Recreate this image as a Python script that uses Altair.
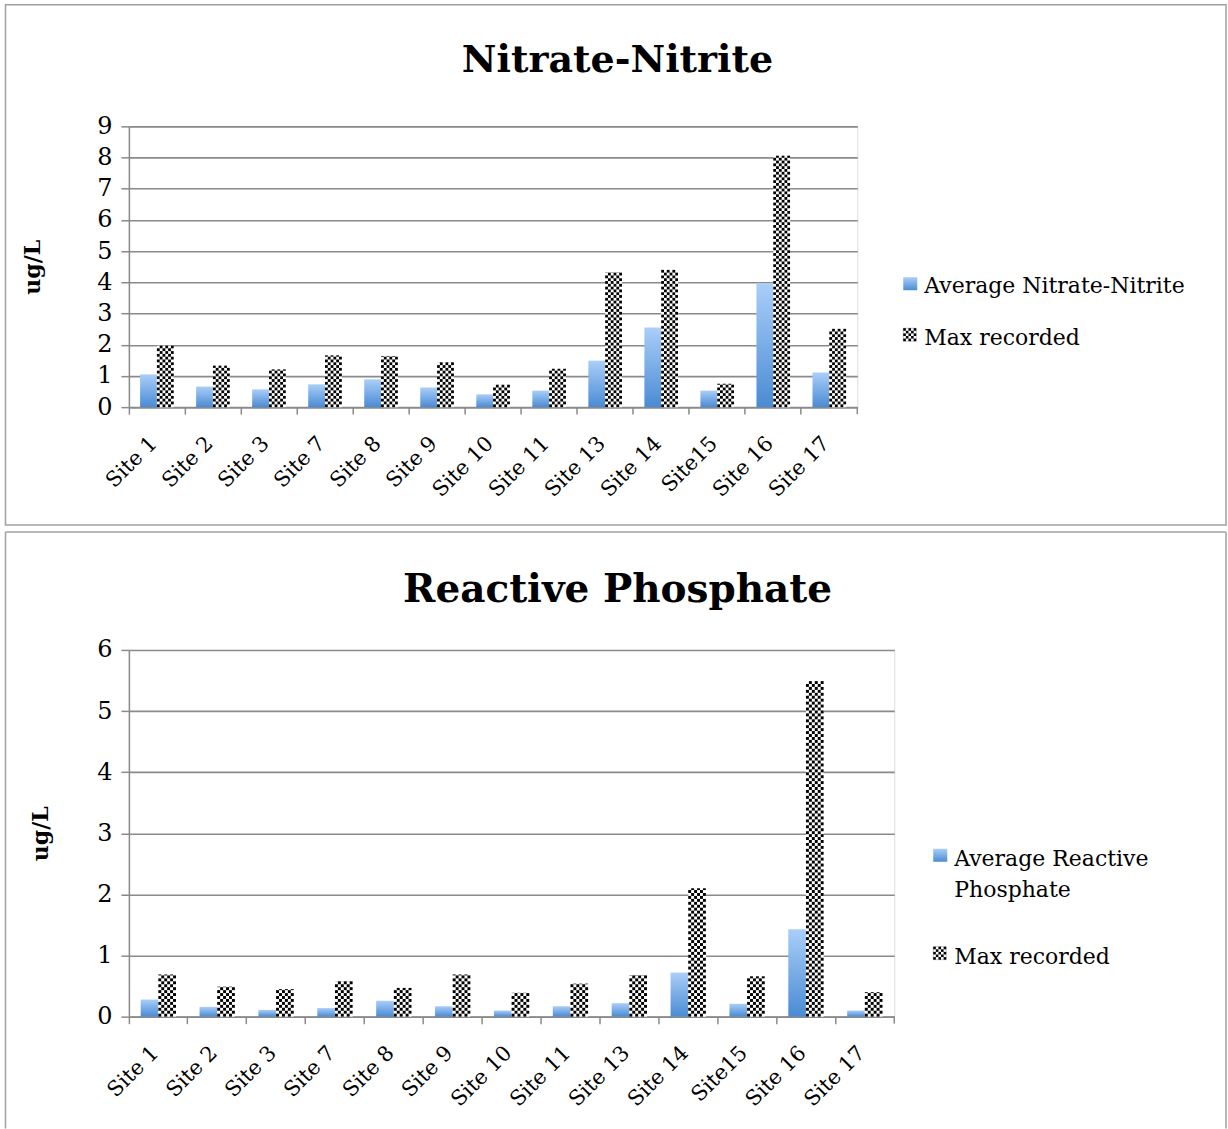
import math
import altair as alt
import pandas as pd

# ---------------- data ----------------
sites = ["Site 1", "Site 2", "Site 3", "Site 7", "Site 8", "Site 9", "Site 10",
         "Site 11", "Site 13", "Site 14", "Site15", "Site 16", "Site 17"]
nitrate_avg = [1.05, 0.66, 0.57, 0.73, 0.89, 0.63, 0.41, 0.53, 1.49, 2.55, 0.53, 3.97, 1.11]
nitrate_max = [1.97, 1.33, 1.21, 1.66, 1.64, 1.44, 0.72, 1.23, 4.32, 4.40, 0.75, 8.06, 2.51]
phos_avg = [0.28, 0.16, 0.11, 0.14, 0.26, 0.17, 0.10, 0.17, 0.22, 0.72, 0.21, 1.43, 0.10]
phos_max = [0.69, 0.49, 0.45, 0.58, 0.47, 0.69, 0.39, 0.54, 0.68, 2.10, 0.66, 5.49, 0.40]

SERIF = "DejaVu Serif"
GRID = "#8a8a8a"
NCOLS = 6          # checker columns per bar
PAD_SLOTS = 4      # empty checker-slots on each side of the bar pair
PAD_OUT = PAD_SLOTS / NCOLS

grad = alt.LinearGradient(
    gradient="linear",
    stops=[alt.GradientStop(color="#aacef9", offset=0),
           alt.GradientStop(color="#4a8bd3", offset=1)],
    x1=0, x2=0, y1=0, y2=1,
)

one = pd.DataFrame({"k": [0]})


def checker_cells(values, cell_h):
    rows = []
    for site, v in zip(sites, values):
        n = int(math.ceil(v / cell_h))
        for r in range(n):
            for c in range(NCOLS):
                if (r + c) % 2 == 0:
                    rows.append({"site": site, "col": PAD_SLOTS + NCOLS + c,
                                 "y0": r * cell_h,
                                 "y1": min((r + 1) * cell_h, v)})
    return pd.DataFrame(rows)


def legend_checker(x0, y0, size=13, n=5):
    """Small checkered legend swatch (decoration)."""
    s = size / n
    out = [alt.Chart(one).mark_rect(fill="white", stroke="#9a9a9a",
                                    strokeWidth=0.6).encode(
        x=alt.value(x0), x2=alt.value(x0 + size),
        y=alt.value(y0), y2=alt.value(y0 + size))]
    for r in range(n):
        for c in range(n):
            if (r + c) % 2 == 0:
                out.append(alt.Chart(one).mark_rect(fill="black").encode(
                    x=alt.value(x0 + c * s), x2=alt.value(x0 + (c + 1) * s),
                    y=alt.value(y0 + r * s), y2=alt.value(y0 + (r + 1) * s)))
    return out


def panel(title, avg_lines, avg, mx, ymax, W, H, legend, frame, ytitle_x):
    step = W / len(sites)
    col_px = step / (2 * NCOLS + 2 * PAD_SLOTS)
    cell_h = col_px / (H / ymax)

    avg_df = pd.DataFrame({"site": sites, "series": "avg", "value": avg})
    max_df = pd.DataFrame({"site": sites, "series": "max", "value": mx})
    cells = checker_cells(mx, cell_h)

    xenc = alt.X(
        "site:N", sort=sites, title=None,
        scale=alt.Scale(domain=sites, paddingInner=0, paddingOuter=0),
        axis=alt.Axis(bandPosition=0, labelAngle=315, labelOffset=-3,
                      labelAlign="right", labelBaseline="middle",
                      labelPadding=26, labelFont=SERIF, labelFontSize=21,
                      labelColor="black", tickSize=7, tickColor=GRID,
                      tickWidth=1.5, domainColor=GRID, domainWidth=1.5,
                      grid=False),
    )

    def yenc(field):
        return alt.Y(
            field, title="ug/L",
            scale=alt.Scale(domain=[0, ymax], nice=False, zero=True),
            axis=alt.Axis(values=list(range(0, ymax + 1)), format="d",
                          tickSize=8, tickColor=GRID, tickWidth=1.5,
                          domainColor=GRID, domainWidth=1.5,
                          grid=True, gridColor=GRID, gridWidth=1.6,
                          labelFont=SERIF, labelFontSize=24,
                          labelColor="black", labelPadding=9,
                          titleFont=SERIF, titleFontSize=22,
                          titleFontWeight="bold", titleColor="black",
                          titleAngle=270, titleBaseline="middle",
                          titleX=ytitle_x, titleY=H / 2),
        )

    off = alt.XOffset("series:N",
                      scale=alt.Scale(domain=["avg", "max"], paddingInner=0,
                                      paddingOuter=PAD_OUT))
    off_cells = alt.XOffset("col:O",
                            scale=alt.Scale(domain=list(range(2 * NCOLS + 2 * PAD_SLOTS)),
                                            paddingInner=0, paddingOuter=0))

    avg_bars = alt.Chart(avg_df).mark_bar(fill=grad, strokeWidth=0).encode(
        x=xenc, xOffset=off, y=yenc("value:Q"))
    max_bg = alt.Chart(max_df).mark_bar(color="white", strokeWidth=0).encode(
        x=xenc, xOffset=off, y=yenc("value:Q"))
    max_cells = alt.Chart(cells).mark_bar(color="black", strokeWidth=0).encode(
        x=xenc, xOffset=off_cells, y=yenc("y0:Q"), y2="y1:Q")

    end_tick = alt.Chart(one).mark_rule(color=GRID, strokeWidth=1.5).encode(
        x=alt.value(W), y=alt.value(H), y2=alt.value(H + 7))

    title_mark = alt.Chart(one).mark_text(
        font=SERIF, fontSize=title[2], fontWeight="bold", align="center",
        baseline="alphabetic", color="black").encode(
        x=alt.value(489), y=alt.value(title[1]), text=alt.value(title[0]))

    lx, ly_sym, ly_txt, my_sym, my_txt = legend
    leg_avg_sym = alt.Chart(one).mark_rect(fill=grad).encode(
        x=alt.value(lx), x2=alt.value(lx + 14),
        y=alt.value(ly_sym), y2=alt.value(ly_sym + 13))
    leg_avg_txt = alt.Chart(one).mark_text(
        font=SERIF, fontSize=22, align="left", baseline="alphabetic",
        color="black", lineHeight=31).encode(
        x=alt.value(lx + 21), y=alt.value(ly_txt), text=alt.value(avg_lines))
    leg_max_sym = legend_checker(lx, my_sym)
    leg_max_txt = alt.Chart(one).mark_text(
        font=SERIF, fontSize=22, align="left", baseline="alphabetic",
        color="black").encode(
        x=alt.value(lx + 21), y=alt.value(my_txt), text=alt.value("Max recorded"))

    fl, fr, ft, fb, closed = frame
    if closed:
        frames = [alt.Chart(one).mark_rect(
            fillOpacity=0, stroke="#a0a0a0", strokeWidth=1.5).encode(
            x=alt.value(fl), x2=alt.value(fr), y=alt.value(ft), y2=alt.value(fb))]
    else:
        frames = [
            alt.Chart(one).mark_rule(color="#a0a0a0", strokeWidth=1.5).encode(
                x=alt.value(fl), x2=alt.value(fr), y=alt.value(ft)),
            alt.Chart(one).mark_rule(color="#a0a0a0", strokeWidth=1.5).encode(
                x=alt.value(fl), y=alt.value(ft), y2=alt.value(fb)),
            alt.Chart(one).mark_rule(color="#a0a0a0", strokeWidth=1.5).encode(
                x=alt.value(fr), y=alt.value(ft), y2=alt.value(fb)),
        ]

    layers = ([avg_bars, max_bg, max_cells, end_tick, title_mark,
               leg_avg_sym, leg_avg_txt] + leg_max_sym + [leg_max_txt] + frames)
    return alt.layer(*layers).resolve_scale(xOffset="independent").properties(
        width=W, height=H)


top = panel(("Nitrate-Nitrite", -54, 38), "Average Nitrate-Nitrite",
            nitrate_avg, nitrate_max, 9, 729, 281,
            (775, 151, 167, 202, 219),
            (-123.5, 1098, -121.7, 399, True), -96)

bottom = panel(("Reactive Phosphate", -48, 39), ["Average Reactive", "Phosphate"],
               phos_avg, phos_max, 6, 766, 367,
               (805, 199, 216, 297, 314),
               (-123.5, 1098, -118, 479, False), -88)

chart = alt.vconcat(top, bottom, spacing=3).properties(
    padding={"left": 4, "top": 3, "right": 0, "bottom": 0}
).configure_view(strokeWidth=0).configure(background="white")

chart.save("out.html", embed_options={"renderer": "svg", "actions": False})
